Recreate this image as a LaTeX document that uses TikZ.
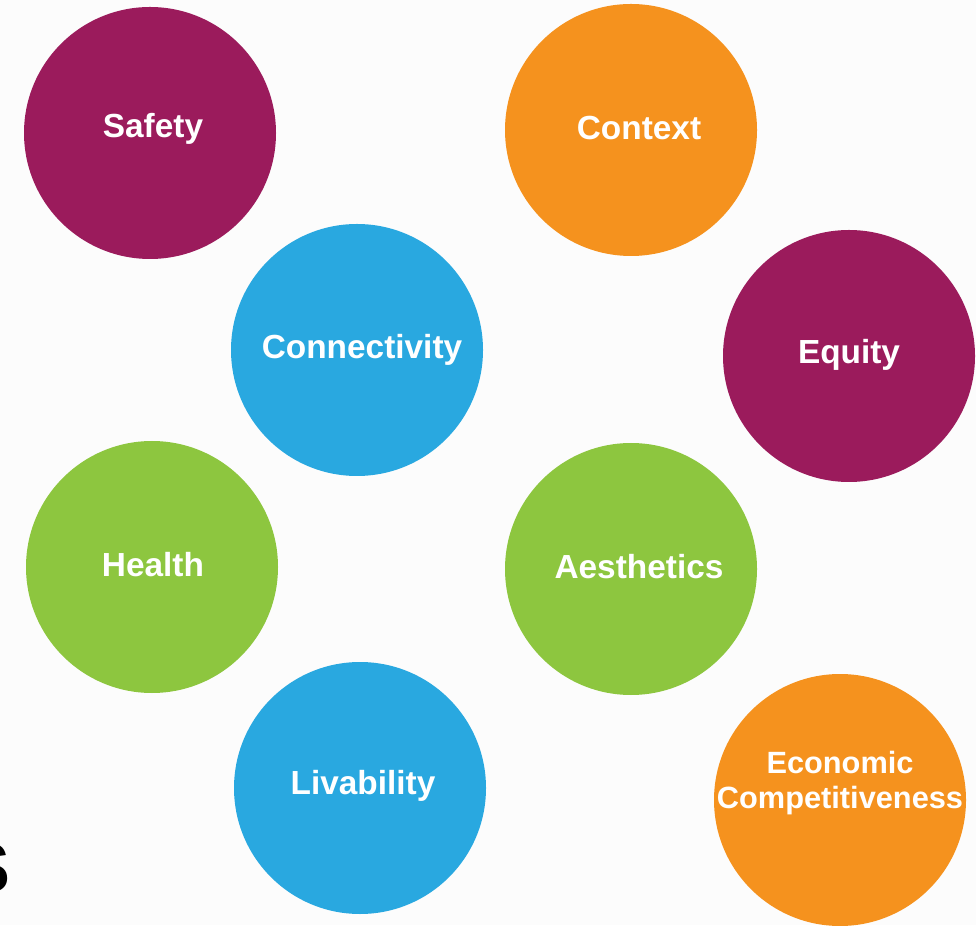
\documentclass[tikz,border=0pt]{standalone}
\usepackage{fontspec}
\setmainfont{Liberation Sans}
\definecolor{plum}{HTML}{9B1B5C}
\definecolor{tangerine}{HTML}{F5921E}
\definecolor{skyblue}{HTML}{29A8E0}
\definecolor{leafgreen}{HTML}{8DC63F}

\begin{document}
\begin{tikzpicture}[
	bubble/.style={circle, minimum size=5.04cm, inner sep=0pt},
	bubbletext/.style={text=white, align=center, font=\bfseries\fontsize{19}{22}\selectfont},
	smalltext/.style={bubbletext, font=\bfseries\fontsize{17.5}{20}\selectfont}
	]
		\useasboundingbox (0,0) rectangle (19.52,18.5);
		\clip (0,0) rectangle (19.52,18.5);
		\fill [white!99!black] (0,0) rectangle (19.52,18.5);
		
		\node [bubble, fill=plum] (safety) at (3.0,15.84) {};
		\node [bubble, fill=tangerine] (context) at (12.62,15.9) {};
		\node [bubble, fill=skyblue] (connectivity) at (7.14,11.5) {};
		\node [bubble, fill=plum] (equity) at (16.98,11.38) {};
		\node [bubble, fill=leafgreen] (health) at (3.04,7.16) {};
		\node [bubble, fill=leafgreen] (aesthetics) at (12.62,7.12) {};
		\node [bubble, fill=skyblue] (livability) at (7.2,2.74) {};
		\node [bubble, fill=tangerine] (economic) at (16.8,2.5) {};
		
		\node [bubbletext] (safetytext) at ([shift={(0.06,0.08)}]safety.center) {Safety};
		\node [bubbletext] (contexttext) at ([shift={(0.16,0.04)}]context.center) {Context};
		\node [bubbletext] (connectivitytext) at ([shift={(0.1,0)}]connectivity.center) {Connectivity};
		\node [bubbletext] (equitytext) at ([shift={(0,0.02)}]equity.center) {Equity};
		\node [bubbletext] (healthtext) at ([shift={(0.02,0.04)}]health.center) {Health};
		\node [bubbletext] (aestheticstext) at ([shift={(0.16,0.04)}]aesthetics.center) {Aesthetics};
		\node [bubbletext] (livabilitytext) at ([shift={(0.06,0.04)}]livability.center) {Livability};
		\node [smalltext] (economictext) at ([shift={(0,0.34)}]economic.center) {Economic\\Competitiveness};
		
		% cut-off letter at the left edge
		\node [anchor=east, inner sep=0pt, font=\bfseries\fontsize{40}{44}\selectfont] (cutletter) at (0.22,1.14) {S};
		
	\end{tikzpicture}
\end{document}
